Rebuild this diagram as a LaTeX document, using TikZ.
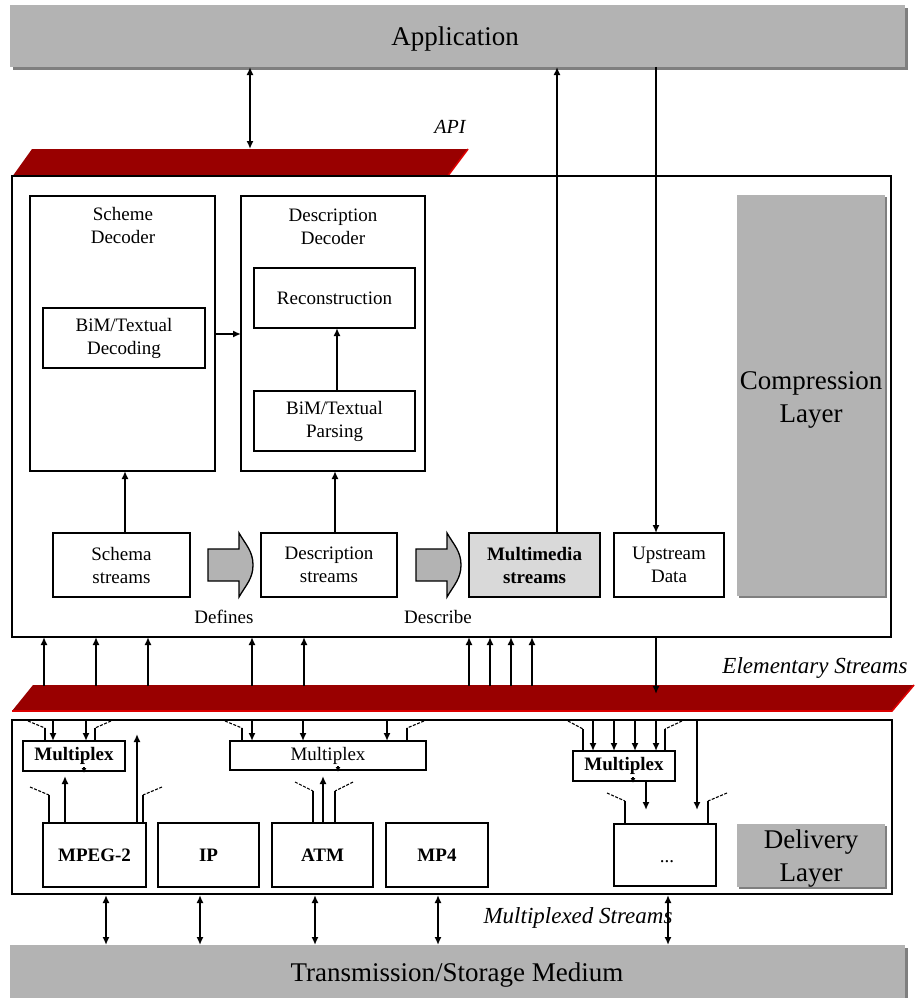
\documentclass[tikz,border=0pt]{standalone}
\usepackage{fontspec}
\setmainfont{Liberation Serif}
\usetikzlibrary{arrows.meta,calc}
\definecolor{laygray}{HTML}{B3B3B3}
\definecolor{shadegray}{HTML}{7F7F7F}
\definecolor{barred}{HTML}{990000}
\definecolor{baredge}{HTML}{DD0000}
\definecolor{mmgray}{HTML}{D9D9D9}
\begin{document}
\begin{tikzpicture}[x=1pt,y=-1pt,
  box/.style={draw=black,line width=1.5pt,fill=white,inner sep=0pt,outer sep=0pt,align=center,font=\fontsize{19}{23}\selectfont},
  boldbox/.style={box,font=\fontsize{19}{23}\selectfont\bfseries},
  layer/.style={fill=laygray,inner sep=0pt,outer sep=0pt,align=center,font=\fontsize{27}{33}\selectfont},
  shade/.style={fill=shadegray},
  ln/.style={line width=1.6pt},
  tip/.style={ln,-{Latex[length=8pt,width=7pt]}},
  dbl/.style={ln,{Latex[length=8pt,width=7pt]}-{Latex[length=8pt,width=7pt]}},
  stubd/.style={line width=1.1pt,dash pattern=on 3pt off 1.5pt},
  stubv/.style={line width=1.3pt},
  lab/.style={inner sep=0pt,align=center,font=\fontsize{19}{23}\selectfont},
  ilab/.style={inner sep=0pt,font=\fontsize{23}{27}\selectfont\itshape},
  barfill/.style={fill=barred},
  baredge/.style={draw=baredge,line width=1.6pt},
  blockarrow/.style={fill=laygray,draw=black,line width=1.3pt},
]
\useasboundingbox[fill=white] (0,0) rectangle (914,998);

% ---------- Application ----------
\fill[shade] (13,8) rectangle (908,70);
\node[layer,minimum width=895pt,minimum height=62pt] (app) at (457.5,36) {};
\node[layer,fill=none] (applab) at (455,39) {Application};

% ---------- API bar ----------
\path[barfill] (12,177) -- (32,149) -- (468,149) -- (447,177) -- cycle;
\draw[baredge] (12,177) -- (447,177) -- (468,149);
\node[ilab,font=\fontsize{20}{24}\selectfont\itshape] (apilab) at (450,127) {API};

% ---------- Compression layer ----------
\node[box,minimum width=879pt,minimum height=461pt] (comp) at (451.5,406.5) {};
\fill[shade] (739,197) rectangle (887,598);
\node[layer,minimum width=148pt,minimum height=401pt] (complayer) at (811,395.5) {};
\node[layer,fill=none] (complab) at (811,400) {Compression\\Layer};

\node[box,minimum width=185pt,minimum height=275pt] (sdec) at (122.5,333.5) {};
\node[lab] (sdeclab) at (123,225) {Scheme\\Decoder};
\node[box,minimum width=184pt,minimum height=275pt] (ddec) at (333,333.5) {};
\node[lab] (ddeclab) at (333,227) {Description\\Decoder};

\node[box,minimum width=162pt,minimum height=60pt] (bdec) at (124,338) {BiM/Textual\\Decoding};
\node[box,minimum width=161pt,minimum height=60pt] (recon) at (334.5,298) {Reconstruction};
\node[box,minimum width=161pt,minimum height=60pt] (parse) at (334.5,421) {BiM/Textual\\Parsing};

\node[box,minimum width=137pt,minimum height=64pt] (sstr) at (121.5,565) {Schema\\streams};
\node[box,minimum width=136pt,minimum height=64pt] (dstr) at (329,565) {Description\\streams};
\node[boldbox,fill=mmgray,minimum width=131pt,minimum height=64pt] (mstr) at (534.5,565) {Multimedia\\streams};
\node[box,minimum width=110pt,minimum height=64pt] (ustr) at (669,565) {Upstream\\Data};

% block arrows
\draw[blockarrow] (208,549) -- (239,549) -- (239,533) to[out=-60,in=90] (253,565) to[out=-90,in=60] (239,597) -- (239,581) -- (208,581) -- cycle;
\draw[blockarrow] (416,549) -- (447,549) -- (447,533) to[out=-60,in=90] (461,565) to[out=-90,in=60] (447,597) -- (447,581) -- (416,581) -- cycle;
\node[lab] (deflab) at (224,617) {Defines};
\node[lab] (desclab) at (438,617) {Describe};

% x positions
\coordinate (x250) at (250,0);
\coordinate (x557) at (557,0);
\coordinate (x656) at (656,0);
\coordinate (x125) at (125,0);
\coordinate (x335) at (335,0);
\coordinate (x337) at (337,0);
\coordinate (apibot) at (250,149);
\coordinate (esbarlow) at (0,694);

% connectors in compression layer
\draw[dbl] (x250 |- app.south) -- (apibot);
\draw[tip] (x557 |- mstr.north) -- (x557 |- app.south);
\draw[tip] (x656 |- app.south) -- (x656 |- ustr.north);
\draw[tip] (sdec.east |- bdec.east) ++(0,-4) coordinate (se) (se) -- (se -| ddec.west);
\draw[tip] (x337 |- parse.north) -- (x337 |- recon.south);
\draw[tip] (x125 |- sstr.north) -- (x125 |- sdec.south);
\draw[tip] (x335 |- dstr.north) -- (x335 |- ddec.south);

% ---------- Elementary streams bar ----------
\path[barfill] (12,711) -- (33,685) -- (914,685) -- (892,711) -- cycle;
\draw[baredge] (12,711) -- (892,711) -- (914,685);
\node[ilab] (eslab) at (815,668) {Elementary Streams};

\foreach \xx in {44,96,148,252,304,469,490,511,532}{
  \draw[tip] (\xx,686) -- (\xx,637);
}
\draw[tip] (x656 |- comp.south) -- (x656 |- esbarlow);

% ---------- Delivery layer ----------
\node[box,minimum width=880pt,minimum height=174pt] (deliv) at (452,807) {};
\fill[shade] (739,826) rectangle (887,889);
\node[layer,minimum width=148pt,minimum height=63pt] (dellayer) at (811,855.5) {};
\node[layer,fill=none] (dellab) at (811,859) {Delivery\\Layer};

\node[boldbox,minimum width=102pt,minimum height=30pt] (mux1) at (74,756) {Multiplex};
\node[box,minimum width=196pt,minimum height=29pt] (mux2) at (328,755.5) {Multiplex};
\node[boldbox,minimum width=102pt,minimum height=30pt] (mux3) at (624,766) {Multiplex};

\node[boldbox,minimum width=103pt,minimum height=64pt] (mpeg) at (94.5,855) {MPEG-2};
\node[boldbox,minimum width=101pt,minimum height=64pt] (ip) at (208.5,855) {IP};
\node[boldbox,minimum width=101pt,minimum height=64pt] (atm) at (322.5,855) {ATM};
\node[boldbox,minimum width=102pt,minimum height=64pt] (mp4) at (437,855) {MP4};
\node[box,minimum width=102pt,minimum height=62pt] (dots) at (665,855) {};
\node[lab] (dotslab) at (667,862) {...};

% mux1
\foreach \xx in {53,86}{ \draw[tip] (\xx,720) -- (\xx,741); }
\draw[stubd] (28,721) -- (45,728); \draw[stubv] (45,728) -- (45,741);
\draw[stubd] (111,721) -- (95,728); \draw[stubv] (95,728) -- (95,741);
\draw[ln,-{Latex[length=5pt,width=5pt]}] ($(mux1.south)+(10,-4)$) -- ($(mux1.south)+(10,2)$);
\draw[tip] (65,823) -- (65,776);
\draw[tip] (137,823) -- (137,734);
\draw[stubd] (30,787) -- (49,795); \draw[stubv] (49,795) -- (49,823);
\draw[stubd] (162,787) -- (143,795); \draw[stubv] (143,795) -- (143,823);

% mux2
\foreach \xx in {252,303,387}{ \draw[tip] (\xx,720) -- (\xx,741); }
\draw[stubd] (225,721) -- (242,728); \draw[stubv] (242,728) -- (242,741);
\draw[stubd] (424,721) -- (407,728); \draw[stubv] (407,728) -- (407,741);
\draw[ln,-{Latex[length=5pt,width=5pt]}] ($(mux2.south)+(10,-4)$) -- ($(mux2.south)+(10,2)$);
\draw[tip] (323,823) -- (323,776);
\draw[stubd] (295,782) -- (313,791); \draw[stubv] (313,791) -- (313,823);
\draw[stubd] (353,782) -- (335,791); \draw[stubv] (335,791) -- (335,823);

% mux3
\foreach \xx in {593,614,635,656}{ \draw[tip] (\xx,720) -- (\xx,751); }
\draw[stubd] (568,721) -- (583,729); \draw[stubv] (583,729) -- (583,751);
\draw[stubd] (682,721) -- (665,729); \draw[stubv] (665,729) -- (665,751);
\draw[ln,-{Latex[length=5pt,width=5pt]}] ($(mux3.south)+(9,-4)$) -- ($(mux3.south)+(9,2)$);
\draw[tip] (646,781) -- (646,810);
\draw[tip] (697,720) -- (697,810);
\draw[stubd] (607,793) -- (625,801); \draw[stubv] (625,801) -- (625,824);
\draw[stubd] (727,793) -- (708,801); \draw[stubv] (708,801) -- (708,824);

% ---------- Transmission ----------
\fill[shade] (13,948) rectangle (908,1001);
\node[layer,minimum width=895pt,minimum height=56pt] (trans) at (457.5,973) {};
\node[layer,fill=none] (translab) at (457,975) {Transmission/Storage Medium};

\foreach \xx in {106,200,315,438,668}{
  \draw[dbl] (\xx,895) -- (\xx,945);
}
\node[ilab] (mslab) at (578,918) {Multiplexed Streams};
\end{tikzpicture}
\end{document}
